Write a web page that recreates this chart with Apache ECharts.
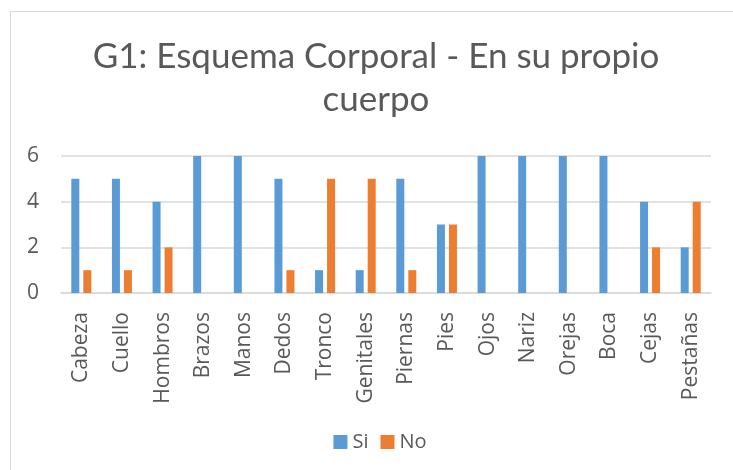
<!DOCTYPE html>
<html>
<head>
<meta charset="utf-8">
<script src="https://cdn.jsdelivr.net/npm/echarts@6/dist/echarts.min.js"></script>
<style>
  html, body { margin: 0; padding: 0; background: #fff; overflow: hidden; }
  #main { position: absolute; left: 10px; top: 11px; width: 740px; height: 480px;
          border: 1px solid #d9d9d9; box-sizing: border-box; }
</style>
</head>
<body>
<div id="main"></div>
<script>
var categories = ["Cabeza", "Cuello", "Hombros", "Brazos", "Manos", "Dedos", "Tronco", "Genitales",
                  "Piernas", "Pies", "Ojos", "Nariz", "Orejas", "Boca", "Cejas", "Pestañas"];
var siValues = [5, 5, 4, 6, 6, 5, 1, 1, 5, 3, 6, 6, 6, 6, 4, 2];
var noValues = [1, 1, 2, 0, 0, 1, 5, 5, 1, 3, 0, 0, 0, 0, 2, 4];
var yTicks = [0, 2, 4, 6];

var chart = echarts.init(document.getElementById("main"));
var titleFont = "Lato, sans-serif";
var font = "'Open Sans', sans-serif";

var option = {
  animation: false,
  title: {
    text: "G1: Esquema Corporal - En su propio\ncuerpo",
    left: 360,
    top: 18,
    textAlign: "center",
    textStyle: {
      fontFamily: titleFont,
      fontSize: 35,
      fontWeight: "normal",
      color: "#595959",
      lineHeight: 43
    }
  },
  legend: {
    data: ["Si", "No"],
    top: 415,
    left: "center",
    itemWidth: 14,
    itemHeight: 14,
    itemGap: 12,
    icon: "rect",
    textStyle: { fontFamily: font, fontSize: 20, color: "#595959" }
  },
  grid: {
    left: 50,
    right: 38,
    top: 144,
    height: 137
  },
  xAxis: {
    type: "category",
    data: categories,
    axisTick: { show: false },
    axisLine: { lineStyle: { color: "#d9d9d9", width: 1.5 } },
    axisLabel: {
      rotate: 90,
      interval: 0,
      margin: 19,
      fontFamily: font,
      fontSize: 21,
      color: "#595959"
    }
  },
  yAxis: {
    type: "value",
    min: yTicks[0],
    max: yTicks[yTicks.length - 1],
    interval: 2,
    axisLine: { show: false },
    axisTick: { show: false },
    axisLabel: { fontFamily: font, fontSize: 21, color: "#595959", margin: 22 },
    splitLine: { lineStyle: { color: "#d9d9d9", width: 1.5 } }
  },
  series: [
    {
      name: "Si",
      type: "bar",
      data: siValues,
      barWidth: 8,
      barGap: "50%",
      itemStyle: { color: "#5b9bd5" }
    },
    {
      name: "No",
      type: "bar",
      data: noValues,
      barWidth: 8,
      itemStyle: { color: "#ed7d31" }
    }
  ]
};
chart.setOption(option);
</script>
</body>
</html>
